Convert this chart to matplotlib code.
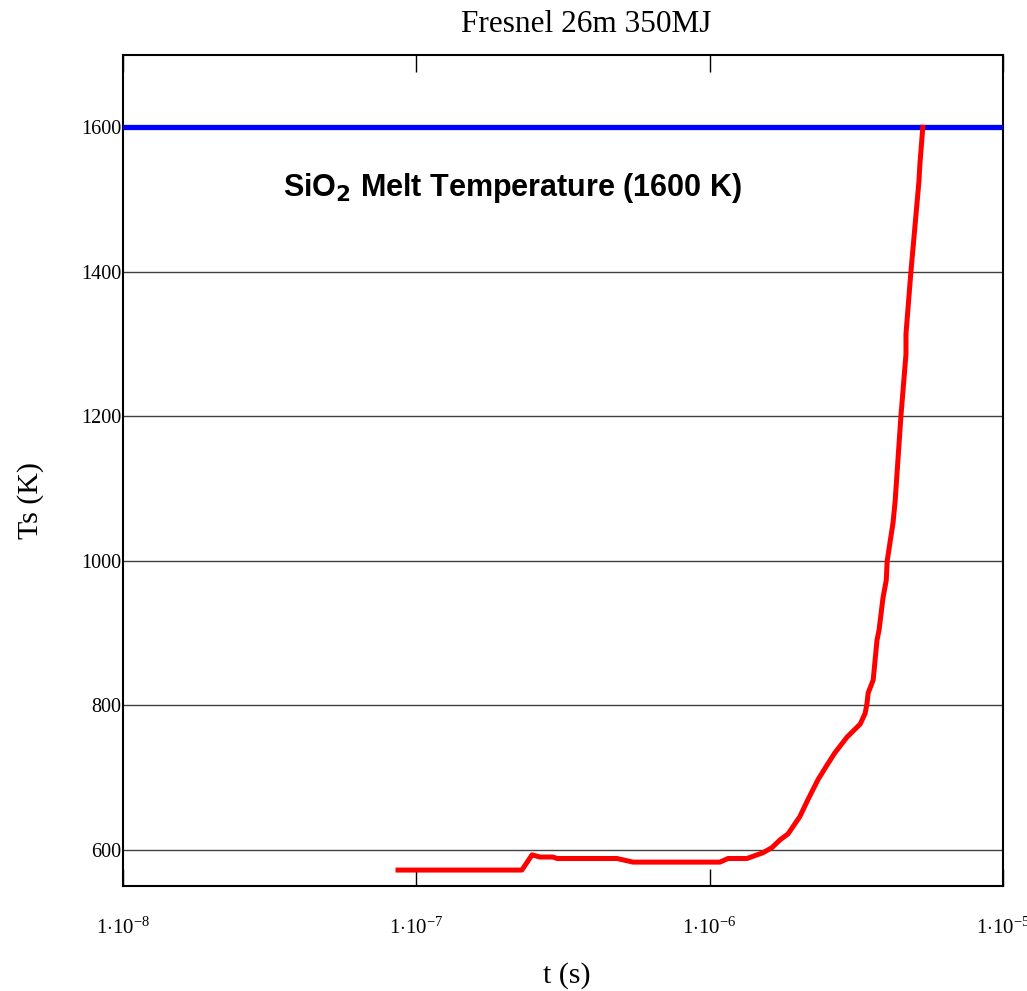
import matplotlib
matplotlib.use('Agg')
import matplotlib.pyplot as plt

# Surface temperature vs time
t = [8.66e-8, 2.29e-7, 2.48e-7, 2.64e-7, 2.92e-7, 3.02e-7, 4.83e-7, 5.48e-7,
     1.084e-6, 1.155e-6, 1.34e-6, 1.52e-6, 1.63e-6, 1.74e-6, 1.85e-6, 2.03e-6,
     2.16e-6, 2.34e-6, 2.51e-6, 2.67e-6, 2.94e-6, 3.26e-6, 3.39e-6, 3.44e-6,
     3.47e-6, 3.61e-6, 3.72e-6, 3.78e-6, 3.90e-6, 4.00e-6, 4.03e-6, 4.22e-6,
     4.29e-6, 4.49e-6, 4.67e-6, 4.67e-6, 4.85e-6, 5.17e-6, 5.21e-6, 5.33e-6]
Ts = [572, 572, 593, 590, 590, 588, 588, 583,
      583, 588, 588, 596, 603, 614, 622, 646,
      669, 697, 717, 734, 756, 774, 789, 803,
      817, 835, 890, 904, 949, 973, 1000, 1053,
      1083, 1201, 1286, 1314, 1398, 1525, 1549, 1600]

melt_T = 1600
yticks = [600, 800, 1000, 1200, 1400, 1600]
xticks = [1e-8, 1e-7, 1e-6, 1e-5]
xticklabels = [r'$1{\cdot}10^{-8}$', r'$1{\cdot}10^{-7}$', r'$1{\cdot}10^{-6}$', r'$1{\cdot}10^{-5}$']

plt.rcParams['font.family'] = 'Liberation Serif'
plt.rcParams['mathtext.fontset'] = 'custom'
plt.rcParams['mathtext.rm'] = 'Liberation Serif'
plt.rcParams['mathtext.it'] = 'Liberation Serif'

fig = plt.figure(figsize=(10.27, 9.91), dpi=100)
ax = fig.add_axes([0.1198, 0.106, 0.8568, 0.8385])

ax.axhline(melt_T, color='#0000ff', lw=3.8, zorder=3)
ax.plot(t, Ts, color='#ff0000', lw=3.6, zorder=4, solid_joinstyle='round')

ax.set_xscale('log')
ax.set_xlim(1e-8, 1e-5)
ax.set_ylim(550, 1700)
ax.set_xticks(xticks)
ax.set_xticklabels(xticklabels, fontsize=15)
ax.minorticks_off()
ax.set_yticks(yticks)
ax.set_yticklabels([str(v) for v in yticks], fontsize=14.5)
ax.tick_params(axis='x', direction='in', length=12, top=True, pad=23, width=1)
ax.tick_params(axis='y', direction='in', length=0, pad=1)
ax.grid(axis='y', color='#404040', lw=1)
for s in ax.spines.values():
    s.set_linewidth(1.5)

ax.text(0.442, 0.84, r'SiO$_\mathbf{2}$ Melt Temperature (1600 K)', transform=ax.transAxes,
        ha='center', va='center', fontsize=22, fontweight='bold', family='Liberation Sans',
        math_fontfamily='dejavusans')

fig.text(0.571, 0.975, 'Fresnel 26m 350MJ', ha='center', va='center', fontsize=22.5)
fig.text(0.552, 0.016, 't (s)', ha='center', va='center', fontsize=21.5)
fig.text(0.030, 0.495, 'Ts (K)', ha='center', va='center', fontsize=21.5, rotation=90)

fig.savefig('out.png', dpi=100)
